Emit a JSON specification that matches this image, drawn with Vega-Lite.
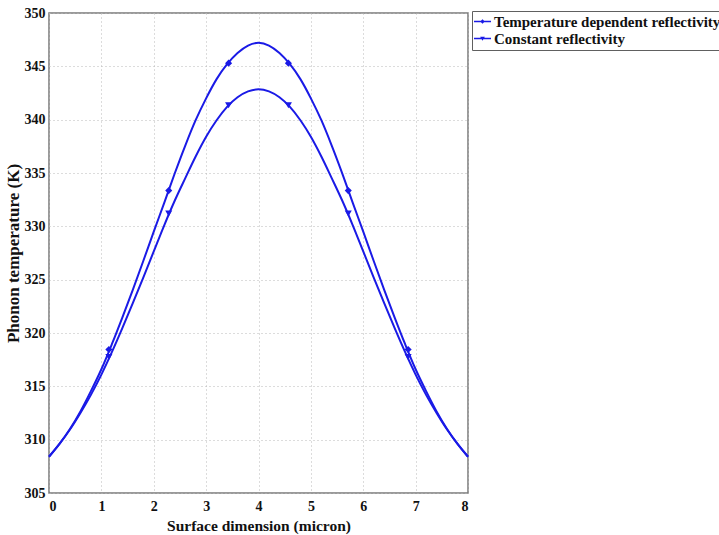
{
  "$schema": "https://vega.github.io/schema/vega-lite/v6.json",
  "width": 419,
  "height": 480,
  "autosize": {"type": "none"},
  "padding": {"left": 49, "top": 13, "right": 251, "bottom": 42},
  "background": "white",
  "config": {
    "font": "Liberation Serif",
    "view": {"stroke": "#7a7a7a", "strokeWidth": 1.5},
    "axis": {
      "domain": false,
      "ticks": false,
      "grid": true,
      "gridColor": "#b8b8b8",
      "gridDash": [1, 3],
      "gridWidth": 1,
      "labelFont": "Liberation Serif",
      "labelFontWeight": "bold",
      "labelFontSize": 14,
      "labelColor": "#111",
      "titleFont": "Liberation Serif",
      "titleFontWeight": "bold",
      "titleColor": "#111"
    }
  },
  "datasets": {
    "curves": [
      {"x": 0.0, "T": 308.4, "series": "Temperature dependent reflectivity"},
      {"x": 0.2, "T": 309.6, "series": "Temperature dependent reflectivity"},
      {"x": 0.4, "T": 311.0, "series": "Temperature dependent reflectivity"},
      {"x": 0.6, "T": 312.65, "series": "Temperature dependent reflectivity"},
      {"x": 0.8, "T": 314.55, "series": "Temperature dependent reflectivity"},
      {"x": 1.0, "T": 316.6, "series": "Temperature dependent reflectivity"},
      {"x": 1.2, "T": 318.95, "series": "Temperature dependent reflectivity"},
      {"x": 1.4, "T": 321.45, "series": "Temperature dependent reflectivity"},
      {"x": 1.6, "T": 324.05, "series": "Temperature dependent reflectivity"},
      {"x": 1.8, "T": 326.75, "series": "Temperature dependent reflectivity"},
      {"x": 2.0, "T": 329.5, "series": "Temperature dependent reflectivity"},
      {"x": 2.2, "T": 332.2, "series": "Temperature dependent reflectivity"},
      {"x": 2.4, "T": 334.95, "series": "Temperature dependent reflectivity"},
      {"x": 2.6, "T": 337.55, "series": "Temperature dependent reflectivity"},
      {"x": 2.8, "T": 339.95, "series": "Temperature dependent reflectivity"},
      {"x": 3.0, "T": 342.0, "series": "Temperature dependent reflectivity"},
      {"x": 3.2, "T": 343.8, "series": "Temperature dependent reflectivity"},
      {"x": 3.4, "T": 345.2, "series": "Temperature dependent reflectivity"},
      {"x": 3.6, "T": 346.25, "series": "Temperature dependent reflectivity"},
      {"x": 3.8, "T": 346.95, "series": "Temperature dependent reflectivity"},
      {"x": 4.0, "T": 347.2, "series": "Temperature dependent reflectivity"},
      {"x": 4.2, "T": 346.95, "series": "Temperature dependent reflectivity"},
      {"x": 4.4, "T": 346.25, "series": "Temperature dependent reflectivity"},
      {"x": 4.6, "T": 345.2, "series": "Temperature dependent reflectivity"},
      {"x": 4.8, "T": 343.8, "series": "Temperature dependent reflectivity"},
      {"x": 5.0, "T": 342.0, "series": "Temperature dependent reflectivity"},
      {"x": 5.2, "T": 339.95, "series": "Temperature dependent reflectivity"},
      {"x": 5.4, "T": 337.55, "series": "Temperature dependent reflectivity"},
      {"x": 5.6, "T": 334.95, "series": "Temperature dependent reflectivity"},
      {"x": 5.8, "T": 332.2, "series": "Temperature dependent reflectivity"},
      {"x": 6.0, "T": 329.5, "series": "Temperature dependent reflectivity"},
      {"x": 6.2, "T": 326.75, "series": "Temperature dependent reflectivity"},
      {"x": 6.4, "T": 324.05, "series": "Temperature dependent reflectivity"},
      {"x": 6.6, "T": 321.45, "series": "Temperature dependent reflectivity"},
      {"x": 6.8, "T": 318.95, "series": "Temperature dependent reflectivity"},
      {"x": 7.0, "T": 316.6, "series": "Temperature dependent reflectivity"},
      {"x": 7.2, "T": 314.55, "series": "Temperature dependent reflectivity"},
      {"x": 7.4, "T": 312.65, "series": "Temperature dependent reflectivity"},
      {"x": 7.6, "T": 311.0, "series": "Temperature dependent reflectivity"},
      {"x": 7.8, "T": 309.6, "series": "Temperature dependent reflectivity"},
      {"x": 8.0, "T": 308.4, "series": "Temperature dependent reflectivity"},
      {"x": 0.0, "T": 308.4, "series": "Constant reflectivity"},
      {"x": 0.2, "T": 309.6, "series": "Constant reflectivity"},
      {"x": 0.4, "T": 310.95, "series": "Constant reflectivity"},
      {"x": 0.6, "T": 312.5, "series": "Constant reflectivity"},
      {"x": 0.8, "T": 314.2, "series": "Constant reflectivity"},
      {"x": 1.0, "T": 316.1, "series": "Constant reflectivity"},
      {"x": 1.2, "T": 318.2, "series": "Constant reflectivity"},
      {"x": 1.4, "T": 320.45, "series": "Constant reflectivity"},
      {"x": 1.6, "T": 322.8, "series": "Constant reflectivity"},
      {"x": 1.8, "T": 325.2, "series": "Constant reflectivity"},
      {"x": 2.0, "T": 327.65, "series": "Constant reflectivity"},
      {"x": 2.2, "T": 330.1, "series": "Constant reflectivity"},
      {"x": 2.4, "T": 332.4, "series": "Constant reflectivity"},
      {"x": 2.6, "T": 334.5, "series": "Constant reflectivity"},
      {"x": 2.8, "T": 336.55, "series": "Constant reflectivity"},
      {"x": 3.0, "T": 338.4, "series": "Constant reflectivity"},
      {"x": 3.2, "T": 339.95, "series": "Constant reflectivity"},
      {"x": 3.4, "T": 341.2, "series": "Constant reflectivity"},
      {"x": 3.6, "T": 342.1, "series": "Constant reflectivity"},
      {"x": 3.8, "T": 342.65, "series": "Constant reflectivity"},
      {"x": 4.0, "T": 342.85, "series": "Constant reflectivity"},
      {"x": 4.2, "T": 342.65, "series": "Constant reflectivity"},
      {"x": 4.4, "T": 342.1, "series": "Constant reflectivity"},
      {"x": 4.6, "T": 341.2, "series": "Constant reflectivity"},
      {"x": 4.8, "T": 339.95, "series": "Constant reflectivity"},
      {"x": 5.0, "T": 338.4, "series": "Constant reflectivity"},
      {"x": 5.2, "T": 336.55, "series": "Constant reflectivity"},
      {"x": 5.4, "T": 334.5, "series": "Constant reflectivity"},
      {"x": 5.6, "T": 332.4, "series": "Constant reflectivity"},
      {"x": 5.8, "T": 330.1, "series": "Constant reflectivity"},
      {"x": 6.0, "T": 327.65, "series": "Constant reflectivity"},
      {"x": 6.2, "T": 325.2, "series": "Constant reflectivity"},
      {"x": 6.4, "T": 322.8, "series": "Constant reflectivity"},
      {"x": 6.6, "T": 320.45, "series": "Constant reflectivity"},
      {"x": 6.8, "T": 318.2, "series": "Constant reflectivity"},
      {"x": 7.0, "T": 316.1, "series": "Constant reflectivity"},
      {"x": 7.2, "T": 314.2, "series": "Constant reflectivity"},
      {"x": 7.4, "T": 312.5, "series": "Constant reflectivity"},
      {"x": 7.6, "T": 310.95, "series": "Constant reflectivity"},
      {"x": 7.8, "T": 309.6, "series": "Constant reflectivity"},
      {"x": 8.0, "T": 308.4, "series": "Constant reflectivity"}
    ],
    "markers": [
      {"x": 1.143, "T": 318.45, "series": "Temperature dependent reflectivity"},
      {"x": 2.286, "T": 333.35, "series": "Temperature dependent reflectivity"},
      {"x": 3.429, "T": 345.3, "series": "Temperature dependent reflectivity"},
      {"x": 4.571, "T": 345.3, "series": "Temperature dependent reflectivity"},
      {"x": 5.714, "T": 333.35, "series": "Temperature dependent reflectivity"},
      {"x": 6.857, "T": 318.45, "series": "Temperature dependent reflectivity"},
      {"x": 1.143, "T": 317.75, "series": "Constant reflectivity"},
      {"x": 2.286, "T": 331.2, "series": "Constant reflectivity"},
      {"x": 3.429, "T": 341.35, "series": "Constant reflectivity"},
      {"x": 4.571, "T": 341.35, "series": "Constant reflectivity"},
      {"x": 5.714, "T": 331.2, "series": "Constant reflectivity"},
      {"x": 6.857, "T": 317.75, "series": "Constant reflectivity"}
    ]
  },
  "encoding": {
    "x": {
      "field": "x",
      "type": "quantitative",
      "scale": {"domain": [0, 8], "nice": false, "zero": false},
      "axis": {
        "values": [0, 1, 2, 3, 4, 5, 6, 7, 8],
        "title": "Surface dimension (micron)",
        "titleFontSize": 15.5,
        "labelPadding": 6,
        "titlePadding": 5
      }
    },
    "y": {
      "field": "T",
      "type": "quantitative",
      "scale": {"domain": [305, 350], "nice": false, "zero": false},
      "axis": {
        "values": [305, 310, 315, 320, 325, 330, 335, 340, 345, 350],
        "title": "Phonon temperature (K)",
        "titleFontSize": 17,
        "labelPadding": 4,
        "titlePadding": 2
      }
    }
  },
  "layer": [
    {
      "data": {"name": "curves"},
      "mark": {"type": "line", "color": "#1a1ae6", "strokeWidth": 2, "interpolate": "monotone"},
      "encoding": {"detail": {"field": "series", "type": "nominal"}}
    },
    {
      "data": {"name": "markers"},
      "mark": {"type": "point", "filled": true, "color": "#1a1ae6", "opacity": 1, "size": 50},
      "encoding": {
        "shape": {
          "field": "series",
          "type": "nominal",
          "scale": {
            "domain": ["Temperature dependent reflectivity", "Constant reflectivity"],
            "range": ["diamond", "triangle-down"]
          },
          "legend": null
        }
      }
    },
    {
      "data": {"name": "markers"},
      "mark": {"type": "point", "filled": true, "color": "#1a1ae6", "opacity": 0, "size": 72},
      "encoding": {
        "shape": {
          "field": "series",
          "type": "nominal",
          "scale": {
            "domain": ["Temperature dependent reflectivity", "Constant reflectivity"],
            "range": ["M-2,-0.16L2,-0.16L2,0.16L-2,0.16ZM-0.55,0L0,-0.55L0.55,0L0,0.55Z", "M-2,-0.16L2,-0.16L2,0.16L-2,0.16ZM-0.55,-0.4L0.55,-0.4L0,0.55Z"]
          },
          "legend": {
            "title": null,
            "orient": "none",
            "legendX": 423,
            "legendY": -2,
            "padding": 3,
            "strokeColor": "#606060",
            "fillColor": "white",
            "labelFont": "Liberation Serif",
            "labelFontWeight": "bold",
            "labelFontSize": 15,
            "labelColor": "#111",
            "labelLimit": 500,
            "labelOffset": 4,
            "rowPadding": 1,
            "symbolSize": 72,
            "symbolFillColor": "#1a1ae6",
            "symbolStrokeColor": "#1a1ae6",
            "symbolStrokeWidth": 0,
            "symbolOpacity": 1
          }
        }
      }
    }
  ],
  "resolve": {"scale": {"shape": "independent"}}
}
